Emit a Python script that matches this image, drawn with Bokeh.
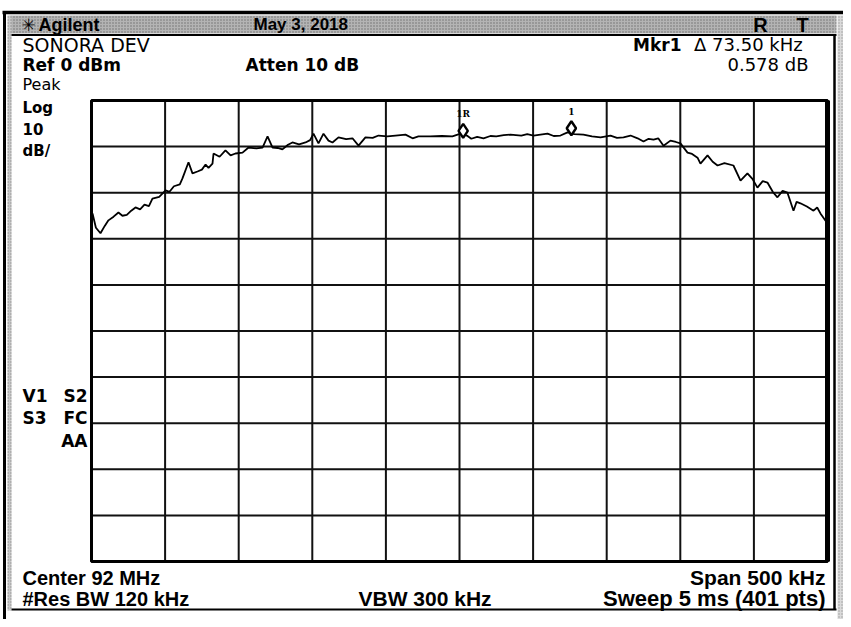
from bokeh.plotting import figure
from bokeh.models import Range1d
from bokeh.core.properties import value
from bokeh.embed import file_html
from bokeh.resources import INLINE

# ---------------- data ----------------
center_mhz = 92.0
span_khz = 500.0
ref_dbm = 0.0
db_per_div = 10.0
n_div = 10

trace_offset_khz = [-249.3, -247.0, -243.9, -241.0, -238.5, -235.0, -231.7, -229.0, -226.0, -223.0,
                    -220.1, -217.0, -214.0, -211.0, -208.6, -204.0, -199.7, -197.0, -194.0, -190.0,
                    -188.2, -184.1, -181.4, -178.0, -175.0, -172.5, -170.5, -167.8, -167.1, -163.0,
                    -159.0, -155.5, -152.2, -147.4, -143.3, -138.0, -133.8, -130.4, -127.0, -123.5,
                    -120.3, -116.5, -113.5, -109.0, -104.6, -101.5, -99.2, -95.8, -92.4, -89.0,
                    -86.3, -82.2, -77.0, -72.7, -68.6, -63.9, -59.0, -55.0, -49.0, -43.5,
                    -36.7, -31.9, -27.9, -20.0, -12.0, -4.8, 0.7, 5.0, 8.0, 12.0,
                    16.3, 21.0, 25.0, 30.0, 34.6, 42.0, 46.0, 50.3, 55.0, 59.8,
                    64.0, 68.6, 73.4, 78.0, 84.2, 90.0, 95.8, 102.6, 107.0, 111.4,
                    116.2, 121.0, 125.0, 128.5, 131.8, 135.0, 138.6, 143.3, 147.0, 150.1,
                    154.9, 158.0, 161.7, 163.7, 168.5, 172.0, 175.3, 180.0, 186.1, 190.9,
                    195.6, 199.0, 202.4, 206.0, 209.2, 213.0, 216.0, 219.5, 222.8, 226.9,
                    229.0, 231.6, 236.0, 240.5, 243.0, 245.2, 250.0]
trace_dbm = [-24.5, -27.6, -28.8, -27.2, -26.0, -25.2, -24.3, -25.0, -24.8, -23.9,
             -23.2, -23.6, -22.6, -22.9, -21.3, -20.9, -19.5, -19.8, -18.6, -18.2,
             -16.9, -13.4, -15.8, -15.4, -15.0, -13.9, -14.6, -13.7, -11.5, -12.2,
             -10.8, -11.9, -11.5, -11.3, -10.2, -10.4, -10.2, -7.8, -10.2, -10.3,
             -10.6, -9.6, -9.1, -9.5, -9.1, -8.6, -7.2, -9.3, -7.2, -8.7,
             -9.1, -8.0, -8.4, -8.2, -9.8, -8.0, -8.1, -7.6, -7.8, -7.6,
             -7.4, -8.2, -7.8, -7.8, -7.7, -7.8, -7.2, -7.6, -8.3, -7.9,
             -8.2, -7.7, -7.8, -7.5, -7.4, -7.6, -7.3, -7.6, -7.4, -7.2,
             -7.7, -7.6, -6.9, -7.3, -7.4, -7.8, -8.0, -7.6, -8.1, -8.0,
             -7.6, -8.2, -8.9, -8.3, -8.5, -8.2, -9.8, -8.7, -9.0, -9.3,
             -11.3, -11.6, -12.4, -13.7, -11.9, -13.3, -14.1, -13.6, -14.1, -17.4,
             -15.8, -17.0, -18.9, -17.5, -17.8, -19.9, -21.0, -19.6, -20.0, -23.9,
             -22.0, -22.3, -23.0, -23.9, -23.2, -24.5, -26.7]

marker_labels = ["1R", "1"]
marker_offset_khz = [2.5, 76.0]
marker_dbm = [-6.6, -6.02]

header_left = "Agilent"
header_date = "May 3, 2018"
header_flags = ["R", "T"]
title = "SONORA DEV"
ref_text = "Ref 0 dBm"
atten_text = "Atten 10 dB"
mkr_label = "Mkr1"
mkr_text = "\u0394  73.50 kHz"
mkr_val = "0.578 dB"
side_top = ["Peak", "Log", "10", "dB/"]
side_bot_left = ["V1", "S3"]
side_bot_right = ["S2", "FC", "AA"]
bottom_row1 = ["Center 92 MHz", "Span 500 kHz"]
bottom_row2 = ["#Res BW 120 kHz", "VBW 300 kHz", "Sweep 5 ms (401 pts)"]

# ---------------- geometry (image pixels -> data) ----------------
start_mhz = center_mhz - span_khz / 2000.0
stop_mhz = center_mhz + span_khz / 2000.0
bottom_dbm = ref_dbm - db_per_div * n_div
GX0, GX1, GY0, GY1 = 91.0, 827.0, 100.0, 561.0


def X(px):
    return start_mhz + (px - GX0) * (stop_mhz - start_mhz) / (GX1 - GX0)


def Y(py):
    return ref_dbm - (py - GY0) * (ref_dbm - bottom_dbm) / (GY1 - GY0)


W, H = 843, 619
p = figure(width=W, height=H, output_backend="svg", toolbar_location=None,
           x_range=Range1d(X(0), X(W)), y_range=Range1d(Y(H), Y(0)),
           min_border=0, tools="")
p.axis.visible = False
p.grid.visible = False
p.outline_line_color = None
p.background_fill_color = "white"

SANS = value("DejaVu Sans")
COND = value("Liberation Sans")

# outer frame / bars
p.quad(left=X(10), right=X(836), top=Y(15), bottom=Y(33), fill_color="#b4b4b4",
       line_color=None, hatch_pattern=".", hatch_color="#6e6e6e", hatch_scale=3, hatch_weight=1)
p.quad(left=X(7), right=X(11), top=Y(15), bottom=Y(610), fill_color="#c8c8c8", line_color=None,
       hatch_pattern=".", hatch_color="#8a8a8a", hatch_scale=3)
p.quad(left=X(837), right=X(845), top=Y(15), bottom=Y(619), fill_color="#dadada", line_color=None,
       hatch_pattern=".", hatch_color="#9a9a9a", hatch_scale=3)
p.segment(x0=[X(2), X(4), X(11), X(834), X(11)], y0=[Y(12), Y(11), Y(34.5), Y(34), Y(609)],
          x1=[X(851), X(4), X(836), X(834), X(836)], y1=[Y(12), Y(622), Y(34.5), Y(609), Y(609)],
          line_color="black", line_width=[3.5, 3, 2, 2.5, 2])

# grid
xt = [start_mhz + i * (stop_mhz - start_mhz) / n_div for i in range(n_div + 1)]
yt = [ref_dbm - i * db_per_div for i in range(n_div + 1)]
p.segment(x0=xt, y0=[bottom_dbm] * len(xt), x1=xt, y1=[ref_dbm] * len(xt),
          line_color="#111111", line_width=2)
p.segment(x0=[start_mhz] * len(yt), y0=yt, x1=[stop_mhz] * len(yt), y1=yt,
          line_color="#111111", line_width=2)
p.quad(left=start_mhz, right=stop_mhz, top=ref_dbm, bottom=bottom_dbm,
       fill_color=None, line_color="black", line_width=3)
p.segment(x0=[stop_mhz], y0=[bottom_dbm], x1=[stop_mhz], y1=[ref_dbm],
          line_color="black", line_width=5)

# trace
fx = [center_mhz + k / 1000.0 for k in trace_offset_khz]
p.line(fx, trace_dbm, line_color="black", line_width=1.8)

# markers
mx = [center_mhz + k / 1000.0 for k in marker_offset_khz]
p.scatter(mx, marker_dbm, marker="diamond", size=14, fill_color="white",
          line_color="black", line_width=2.4)
p.text(mx, [m + 3.6 for m in marker_dbm], text=marker_labels, text_font=value("DejaVu Serif"),
       text_font_size="9px", text_font_style="bold", text_align="center", text_baseline="middle")


def txt(px, py, s, size="15px", bold=True, align="left", font=SANS, color="black"):
    p.text([X(px)], [Y(py)], text=[s], text_font=font, text_font_size=size,
           text_font_style="bold" if bold else "normal", text_align=align,
           text_baseline="middle", text_color=color)


# header
txt(28, 24, "\u2733", size="17px", align="center")
txt(38, 24, header_left, size="18px", font=COND)
txt(253, 24, header_date, size="17px", font=COND)
txt(760, 24, header_flags[0], size="20px", align="center", font=COND)
txt(802, 24, header_flags[1], size="20px", align="center", font=COND)

# top texts
txt(22, 44, title, size="19px", bold=False)
txt(22, 64, ref_text, size="17px")
txt(245, 64, atten_text, size="17px")
txt(808, 44, mkr_text, size="18px", bold=False, align="right")
txt(681, 44, mkr_label, size="17px", align="right")
txt(808, 64, mkr_val, size="18px", bold=False, align="right")

txt(22, 84, side_top[0], size="16px", bold=False)
for i, s in enumerate(side_top[1:]):
    txt(22, 107 + i * 21.5, s, size="15px")
for i, s in enumerate(side_bot_left):
    txt(22, 395 + i * 22.5, s, size="17px")
for i, s in enumerate(side_bot_right):
    txt(87, 395 + i * 22.5, s, size="17px", align="right")

# bottom texts
txt(22, 577, bottom_row1[0], size="20px", font=COND)
txt(825, 577, bottom_row1[1], size="21px", font=COND, align="right")
txt(22, 598, bottom_row2[0], size="20px", font=COND)
txt(358, 598, bottom_row2[1], size="21px", font=COND)
txt(825, 598, bottom_row2[2], size="22px", font=COND, align="right")

open("out.html", "w").write(file_html(p, INLINE))
